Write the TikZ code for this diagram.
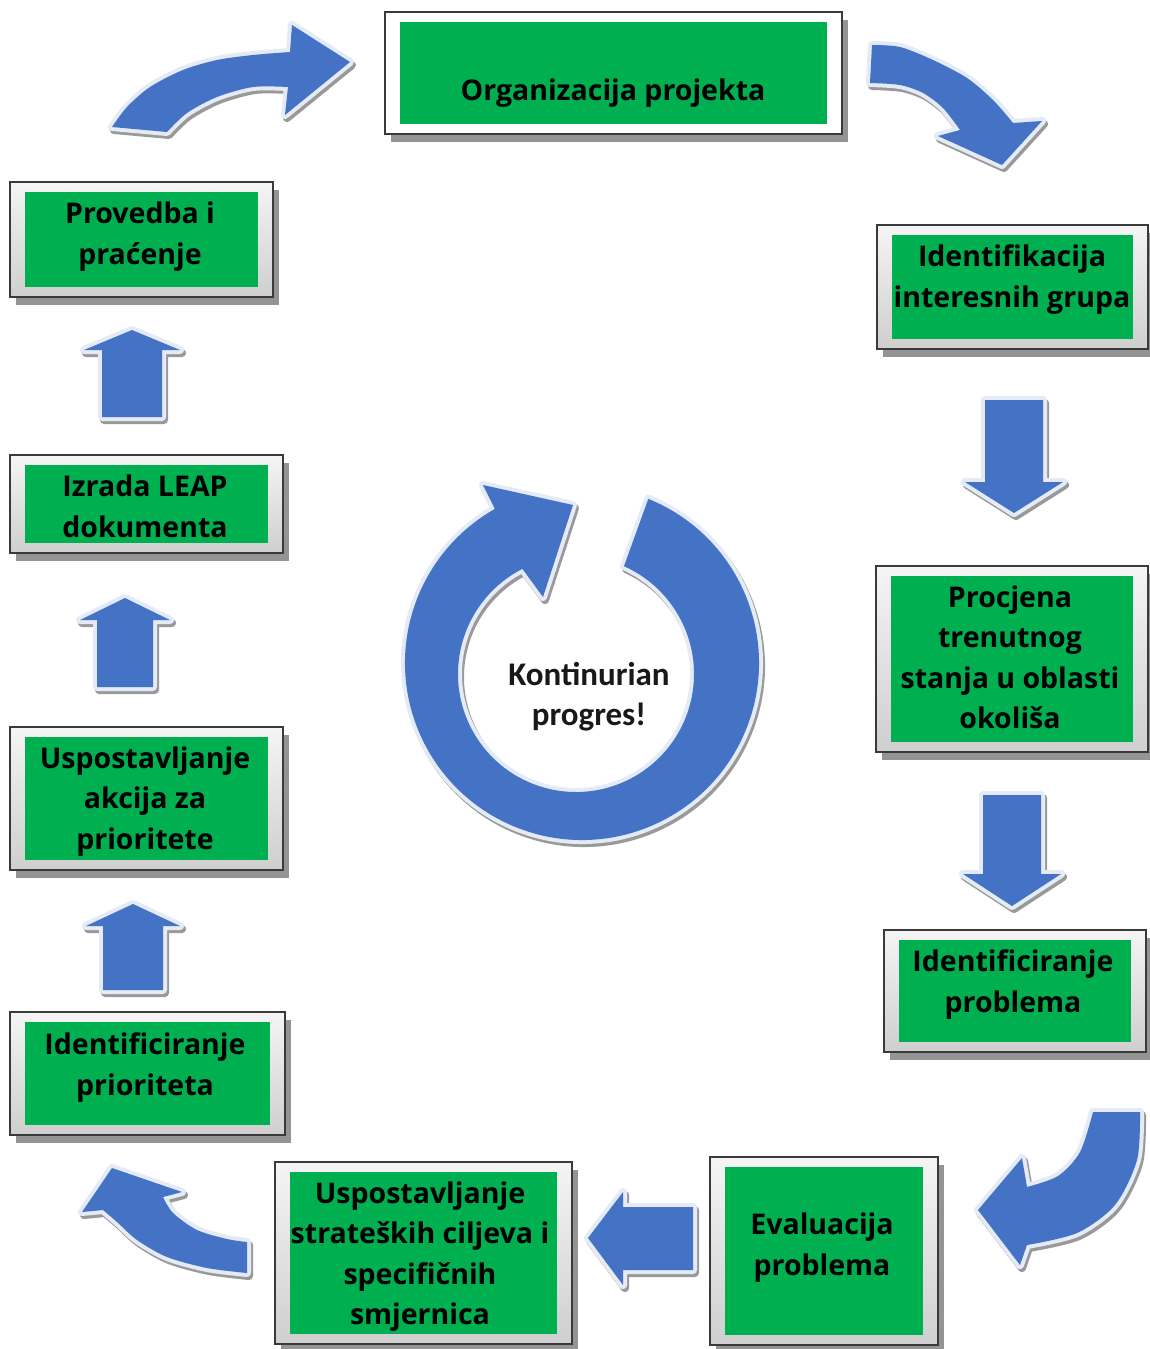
\documentclass[tikz,border=0pt]{standalone}
\usepackage{fontspec}
\setmainfont{Open Sans}
\newfontfamily\kfont{Carlito}
\usetikzlibrary{calc}
\definecolor{boxgreen}{HTML}{00B050}
\definecolor{arrblue}{HTML}{4472C4}
\definecolor{halo}{HTML}{E4EAF6}
\definecolor{framedark}{HTML}{3A3A3A}
\tikzset{
  stageframe/.style={draw=framedark, line width=1.3pt, top color=gray!8, bottom color=gray!38,
    inner sep=0pt, outer sep=0pt, anchor=north west,
    preaction={fill=black!42, transform canvas={shift={(6pt,-8pt)}}}},
  whiteframe/.style={stageframe, top color=white, bottom color=white},
  greenbox/.style={fill=boxgreen, inner sep=0pt, outer sep=0pt, anchor=north west},
  lbl/.style={font=\fontsize{28.5}{40.5}\selectfont\bfseries, align=center, text=black, inner sep=0pt,
    execute at begin node=\strut, execute at end node=\strut},
  ktext/.style={font=\kfont\fontsize{33}{40}\selectfont\bfseries, align=center, text=black!90, inner sep=0pt,
    execute at begin node=\strut, execute at end node=\strut},
  blockarrow/.style={fill=arrblue, line join=round,
    preaction={draw=black!40, line width=8pt, line join=round, transform canvas={shift={(2pt,-3pt)}}},
    preaction={draw=halo, line width=8pt, line join=round}},
}
\newcommand\stagebox[6][stageframe]{%
  \node[#1, minimum width={#5-#3}, minimum height={#6-#4}] (#2) at (#3,#4) {};
  \node[greenbox, minimum width={#5-#3-30}, minimum height={#6-#4-20}] (#2-g) at (#3+15,#4+10) {};
}
% vertical block arrow: cx, tip, headbase, headhalf, shafthalf, tail
\newcommand\vertarrow[6]{%
  \fill[blockarrow] (#1,#2) -- (#1+#4,#3) -- (#1+#5,#3) -- (#1+#5,#6) -- (#1-#5,#6) -- (#1-#5,#3) -- (#1-#4,#3) -- cycle;
}
\begin{document}
\begin{tikzpicture}[x=1pt,y=-1pt]
\useasboundingbox (0,0) rectangle (1150,1349);
\fill[white] (0,0) rectangle (1150,1349);

% ---- stage boxes
\stagebox[whiteframe]{org}{385}{12}{842}{134}
\stagebox{prov}{10}{182}{273}{297}
\stagebox{ident}{877}{225}{1148}{349}
\stagebox{proc}{876}{566}{1148}{752}
\stagebox{prob}{884}{930}{1146}{1052}
\stagebox{eval}{710}{1157}{938}{1345}
\stagebox{strat}{275}{1162}{572}{1344}
\stagebox{prio}{10}{1012}{285}{1135}
\stagebox{akc}{10}{727}{283}{870}
\stagebox{leap}{10}{455}{283}{553}

% ---- labels
\node[lbl] (l-org) at (613,92) {Organizacija projekta};
\node[lbl] (l-prov) at (140,239) {Provedba i\\praćenje};
\node[lbl] (l-ident) at (1012,282) {Identifikacija\\interesnih grupa};
\node[lbl] (l-proc) at (1010,663) {Procjena\\trenutnog\\stanja u oblasti\\okoliša};
\node[lbl] (l-prob) at (1013,987) {Identificiranje\\problema};
\node[lbl] (l-eval) at (822,1250) {Evaluacija\\problema};
\node[lbl] (l-strat) at (420,1259) {Uspostavljanje\\strateških ciljeva i\\specifičnih\\smjernica};
\node[lbl] (l-prio) at (145,1070) {Identificiranje\\prioriteta};
\node[lbl] (l-akc) at (145,804) {Uspostavljanje\\akcija za\\prioritete};
\node[lbl] (l-leap) at (145,512) {Izrada LEAP\\dokumenta};

% ---- straight block arrows
\vertarrow{132}{330}{350}{48}{30}{417}
\vertarrow{125}{598}{620}{45}{28}{687}
\vertarrow{133}{904}{926}{47}{30}{990}
\vertarrow{1014}{513}{482}{49}{29}{400}
\vertarrow{1012}{906}{874}{49}{29}{795}
\fill[blockarrow] (588,1238) -- (623,1192) -- (623,1207) -- (693,1207) -- (693,1270) -- (623,1270) -- (623,1285) -- cycle;

% ---- curved arrows
\fill[blockarrow] plot[smooth] coordinates {(112,127) (127,107) (150,87) (183,70) (217,60) (253,55) (290,52)}
  -- (292,25) -- (350,62) -- (285,115) -- (288,87)
  -- plot[smooth] coordinates {(288,87) (253,87) (217,97) (187,113) (167,132)} -- cycle;
\fill[blockarrow] plot[smooth] coordinates {(872,45) (900,47) (933,60) (967,78) (993,100) (1013,123)}
  -- (1042,121) -- (1002,165) -- (938,136) -- (960,130)
  -- plot[smooth] coordinates {(960,130) (943,108) (923,93) (900,85) (870,83)} -- cycle;
\fill[blockarrow] (1093,1112) -- plot[smooth] coordinates {(1140,1112) (1137,1160) (1115,1205) (1077,1233) (1027,1245)}
  -- (1020,1265) -- (978,1210) -- (1022,1158) -- (1027,1187)
  -- plot[smooth] coordinates {(1027,1187) (1058,1176) (1080,1152) (1093,1112)} -- cycle;
\fill[blockarrow] (247,1242) -- plot[smooth] coordinates {(247,1273) (207,1268) (167,1257) (137,1240) (117,1222) (103,1210)}
  -- (82,1212) -- (112,1168) -- (182,1192) -- (163,1197)
  -- plot[smooth] coordinates {(163,1197) (173,1213) (197,1230) (227,1239) (247,1242)} -- cycle;

% ---- central cycle arrow
\fill[blockarrow] ($(582,663)+(-68:177)$) arc[start angle=-68, end angle=240.5, radius=177]
  -- (483,485) -- (573,505) -- (543,597) -- ($(576,674)+(243:118)$)
  arc[start angle=243, end angle=-66, radius=118] -- cycle;
\node[ktext] (kont) at (589,700) {Kontinurian\\progres!};
\end{tikzpicture}
\end{document}
